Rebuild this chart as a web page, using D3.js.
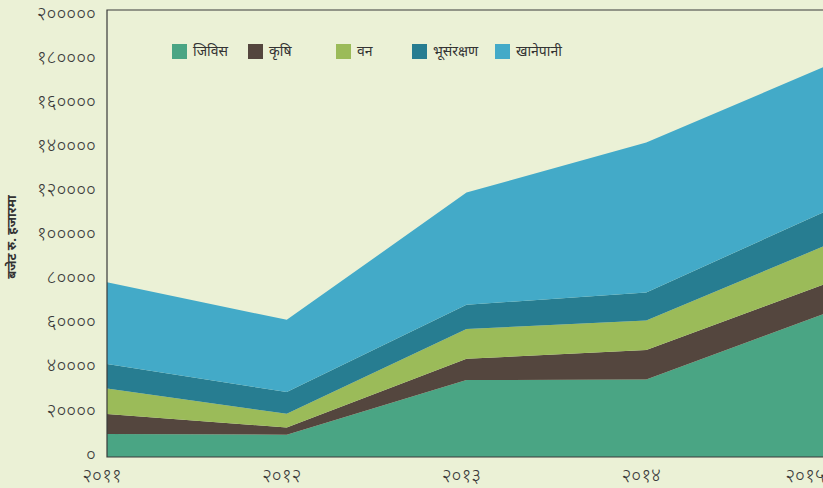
<!DOCTYPE html>
<html>
<head>
<meta charset="utf-8">
<script src="https://cdn.jsdelivr.net/npm/d3@7"></script>
<style>
  html, body { margin: 0; padding: 0; background: #ebf1d6; overflow: hidden; }
  text { font-family: "Noto Sans Devanagari", "Noto Serif Devanagari", "Lohit Devanagari", "FreeSans", sans-serif; fill: #333; }
  .tick { font-weight: 300; fill: #3a3a3a; }
</style>
</head>
<body>
<script>
// Budget by sector, stacked
const width = 823;
const height = 488;

const years = ["२०११", "२०१२", "२०१३", "२०१४", "२०१५"];
const sectors = ["जिविस", "कृषि", "वन", "भूसंरक्षण", "खानेपानी"];
const colors = ["#4aa584", "#54463e", "#9bbb59", "#277d91", "#43aac8"];

const jibis     = [10400, 10100, 34900, 35200, 65200];
const krishi    = [9100, 3300, 9650, 13300, 13400];
const ban       = [11600, 6200, 13450, 13400, 17400];
const bhusan    = [11050, 9850, 11000, 12700, 15500];
const khanepani = [37150, 32750, 50900, 68000, 65800];

const yTicks = [0, 20000, 40000, 60000, 80000, 100000, 120000, 140000, 160000, 180000, 200000];

const series = [jibis, krishi, ban, bhusan, khanepani];
const table = years.map((yr, i) => {
    const row = { year: yr };
    sectors.forEach((s, k) => row[s] = series[k][i]);
    return row;
});

const nepDigits = "०१२३४५६७८९";
const toNep = n => String(n).replace(/[0-9]/g, c => nepDigits[+c]);

const svg = d3.select("body").append("svg")
    .attr("width", width)
    .attr("height", height);

const plotLeft = 107, plotTop = 10, plotBottom = 457;

const x = d3.scalePoint().domain(years).range([plotLeft, 826]);
const y = d3.scaleLinear().domain([0, 200000]).range([plotBottom, 16]);

const layers = d3.stack().keys(sectors)(table);

const area = d3.area()
    .x(d => x(d.data.year))
    .y0(d => y(d[0]))
    .y1(d => y(d[1]));

svg.append("g")
    .selectAll("path")
    .data(layers)
    .join("path")
    .attr("d", area)
    .attr("fill", (d, i) => colors[i]);

// frame
svg.append("path")
    .attr("d", `M${width + 2},${plotTop}H${plotLeft}V${plotBottom}H${width + 2}`)
    .attr("fill", "none")
    .attr("stroke", "#3a3a3a")
    .attr("stroke-width", 1.2);

// y axis labels
svg.append("g")
    .selectAll("text")
    .data(yTicks)
    .join("text")
    .attr("class", "tick")
    .attr("x", 96)
    .attr("y", d => y(d) - 3)
    .attr("dy", "0.35em")
    .attr("text-anchor", "end")
    .attr("font-size", 19)
    .text(d => toNep(d));

// x axis labels
svg.append("g")
    .selectAll("text")
    .data(years)
    .join("text")
    .attr("class", "tick")
    .attr("x", d => Math.min(x(d) - 5, 805))
    .attr("y", 475)
    .attr("dy", "0.35em")
    .attr("text-anchor", "middle")
    .attr("font-size", 19)
    .text(d => d);

// y title
svg.append("text")
    .attr("transform", "translate(16,237) rotate(-90)")
    .attr("text-anchor", "middle")
    .attr("font-size", 13)
    .attr("font-weight", "bold")
    .text("बजेट रु. हजारमा");

// legend
const legendX = [172, 248, 336, 412, 495];
const legend = svg.append("g")
    .selectAll("g")
    .data(sectors)
    .join("g")
    .attr("transform", (d, i) => `translate(${legendX[i]},44)`);

legend.append("rect")
    .attr("width", 15)
    .attr("height", 15)
    .attr("fill", (d, i) => colors[i]);

legend.append("text")
    .attr("x", 21)
    .attr("y", 7.5)
    .attr("dy", "0.35em")
    .attr("font-size", 14)
    .text(d => d);
</script>
</body>
</html>
